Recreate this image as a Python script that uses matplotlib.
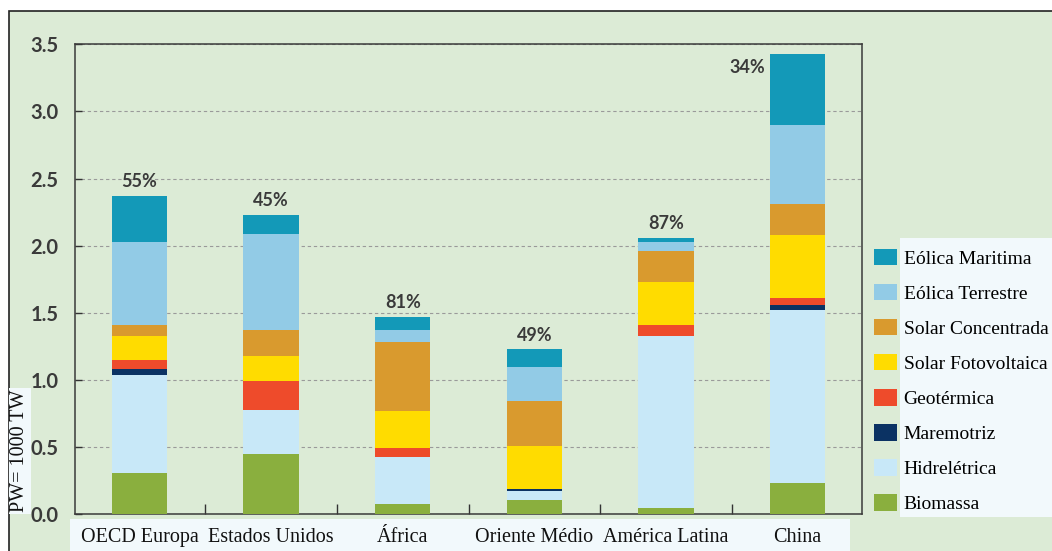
import matplotlib
matplotlib.use("Agg")
import matplotlib.pyplot as plt
from matplotlib.patches import Rectangle
import numpy as np

# regions along the x axis
regions = ["OECD Europa", "Estados Unidos", "África", "Oriente Médio", "América Latina", "China"]

# stacked sources (PW), bottom to top
biomassa = [0.31, 0.45, 0.08, 0.11, 0.05, 0.23]
hidreletrica = [0.73, 0.33, 0.35, 0.06, 1.28, 1.29]
maremotriz = [0.04, 0.00, 0.00, 0.02, 0.00, 0.04]
geotermica = [0.07, 0.21, 0.06, 0.00, 0.08, 0.05]
solar_fv = [0.18, 0.19, 0.28, 0.32, 0.32, 0.47]
solar_conc = [0.08, 0.19, 0.51, 0.33, 0.23, 0.23]
eolica_terr = [0.62, 0.72, 0.09, 0.26, 0.07, 0.59]
eolica_mar = [0.34, 0.14, 0.10, 0.13, 0.03, 0.53]

percent_labels = ["55%", "45%", "81%", "49%", "87%", "34%"]

series = [
    ("Biomassa", biomassa, "#8aaf3e"),
    ("Hidrelétrica", hidreletrica, "#c8e8f8"),
    ("Maremotriz", maremotriz, "#0b3263"),
    ("Geotérmica", geotermica, "#ee4b2b"),
    ("Solar Fotovoltaica", solar_fv, "#ffdc00"),
    ("Solar Concentrada", solar_conc, "#d99a2e"),
    ("Eólica Terrestre", eolica_terr, "#92cbe6"),
    ("Eólica Maritima", eolica_mar, "#1399b8"),
]

BG = "#dcebd6"
LABEL_BG = "#f2f9fc"
SERIF = "Liberation Serif"
NARROW = ["Lato", "DejaVu Sans"]

fig = plt.figure(figsize=(10.52, 5.51), dpi=100)
fig.patch.set_facecolor("white")

# green panel with dark frame (top / left edges visible)
fig.patches.append(Rectangle((9 / 1052, -0.01), 1.0, 1 - 11 / 551 + 0.01,
                             transform=fig.transFigure, facecolor=BG,
                             edgecolor="#222222", lw=1.2, zorder=-10))
# light boxes behind x labels and legend texts
fig.patches.append(Rectangle((70 / 1052, 0), 780 / 1052, 32 / 551,
                             transform=fig.transFigure, facecolor=LABEL_BG,
                             edgecolor="none", zorder=-9))
fig.patches.append(Rectangle((900 / 1052, 1 - 517 / 551), 152 / 1052, 279 / 551,
                             transform=fig.transFigure, facecolor=LABEL_BG,
                             edgecolor="none", zorder=-9))

ax = fig.add_axes([75 / 1052, 1 - 514.3 / 551, 787 / 1052, 470 / 551])
ax.set_facecolor(BG)

x = np.arange(len(regions))
width = 0.42
bottom = np.zeros(len(regions))
handles = []
for name, vals, color in series:
    vals = np.array(vals)
    b = ax.bar(x, vals, width, bottom=bottom, color=color, label=name, zorder=3)
    handles.append(b)
    bottom += vals

for i, lab in enumerate(percent_labels):
    if regions[i] == "China":
        ax.annotate(lab, xy=(x[i] - width / 2, bottom[i]), xytext=(-3, -4),
                    textcoords="offset points", ha="right", va="top",
                    fontsize=13, fontweight="bold", color="#3a3a3a", family=NARROW)
    else:
        ax.annotate(lab, xy=(x[i], bottom[i]), xytext=(0, 4),
                    textcoords="offset points", ha="center", va="bottom",
                    fontsize=13, fontweight="bold", color="#3a3a3a", family=NARROW)

ax.set_xlim(-0.49, 5.49)
ax.set_ylim(0, 3.5)
ax.set_yticks(np.arange(0, 3.51, 0.5))
ax.set_yticklabels([f"{v:.1f}" for v in np.arange(0, 3.51, 0.5)],
                   family=NARROW, fontsize=14.5, fontweight="bold", color="#3a3a3a")
ax.set_xticks(x)
ax.set_xticklabels(regions, family=SERIF, fontsize=14.5, color="#111111")
ax.set_xticks(x[:-1] + 0.5, minor=True)
ax.tick_params(axis="x", which="major", length=0, pad=10)
ax.tick_params(axis="x", which="minor", direction="in", length=7.5, width=1, color="#333333")
ax.tick_params(axis="y", direction="in", length=5, width=1, color="#333333", pad=12)

ax.yaxis.grid(True, color="#9a9a9a", lw=0.8, linestyle=(0, (3, 2.5)))
ax.set_axisbelow(True)
for s in ax.spines.values():
    s.set_color("#3a3a3a")
    s.set_linewidth(1.1)

yl = ax.set_ylabel("PW= 1000 TW", family=SERIF, fontsize=14.5, color="#111111")
yl.set_bbox(dict(facecolor=LABEL_BG, edgecolor="none", pad=1))
ax.yaxis.set_label_coords(-0.058, 0.135)

leg = ax.legend(handles[::-1], [s[0] for s in series][::-1],
                loc="upper left", bbox_to_anchor=(874 / 1052, 1 - 249 / 551),
                bbox_transform=fig.transFigure, frameon=False,
                prop={"family": SERIF, "size": 14},
                handlelength=1.2, handleheight=0.92, labelspacing=0.83,
                handletextpad=0.33, borderpad=0, borderaxespad=0)

fig.savefig("out.png", dpi=100, facecolor=fig.get_facecolor())
